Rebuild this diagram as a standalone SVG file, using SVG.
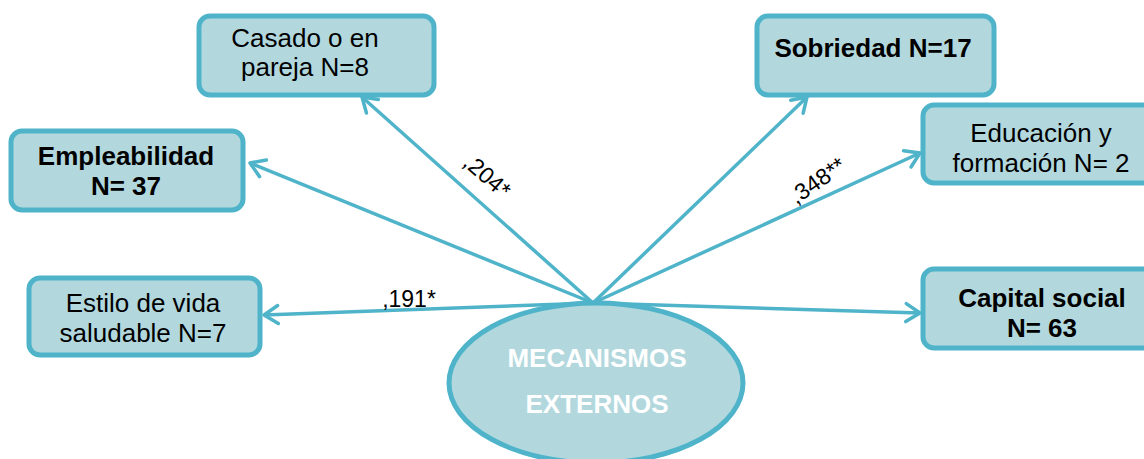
<svg xmlns="http://www.w3.org/2000/svg" width="1144" height="459" viewBox="0 0 1144 459">
<style>
  .box { fill: #b2d8de; stroke: #4fb4c9; stroke-width: 5; }
  .t { font-family: "Liberation Sans", Arial, sans-serif; font-size: 26px; fill: #000; text-anchor: middle; }
  .b { font-weight: bold; }
  .w { fill: #ffffff; font-weight: bold; }
  .lbl { font-family: "Liberation Sans", Arial, sans-serif; font-size: 23px; fill: #000; text-anchor: middle; }
  .edge { stroke: #4fb4c9; stroke-width: 3.5; fill: none; marker-end: url(#arr); }
</style>
<defs>
  <marker id="arr" markerUnits="userSpaceOnUse" markerWidth="30" markerHeight="30" refX="0" refY="0" viewBox="-20 -15 25 30" orient="auto">
    <path d="M-14,-9 L0,0 L-14,9" fill="none" stroke="#4fb4c9" stroke-width="3.5" stroke-linecap="round" stroke-linejoin="round"/>
  </marker>
</defs>
<rect width="1144" height="459" fill="#ffffff"/>

<g id="connectors">
  <line class="edge" x1="593" y1="303" x2="362" y2="97"/>
  <line class="edge" x1="593" y1="303" x2="250" y2="163"/>
  <line class="edge" x1="593" y1="303" x2="264" y2="315"/>
  <line class="edge" x1="593" y1="303" x2="807" y2="97"/>
  <line class="edge" x1="593" y1="303" x2="920" y2="153"/>
  <line class="edge" x1="593" y1="303" x2="920" y2="313"/>
</g>

<g id="labels">
  <text class="lbl" x="409" y="307">,191*</text>
  <text class="lbl" transform="translate(482,182) rotate(41)" x="0" y="0">,204*</text>
  <text class="lbl" transform="translate(822,187) rotate(-35)" x="0" y="0">,348**</text>
</g>

<g id="casado">
  <rect class="box" x="199" y="16" width="235" height="79" rx="11"/>
  <text class="t" x="305" y="47">Casado o en</text>
  <text class="t" x="305" y="76">pareja N=8</text>
</g>

<g id="empleabilidad">
  <rect class="box" x="11" y="131" width="232" height="79" rx="11"/>
  <text class="t b" x="126" y="165">Empleabilidad</text>
  <text class="t b" x="126" y="195">N= 37</text>
</g>

<g id="estilo">
  <rect class="box" x="29" y="278" width="231" height="77" rx="11"/>
  <text class="t" x="143" y="312">Estilo de vida</text>
  <text class="t" x="143" y="342">saludable N=7</text>
</g>

<g id="sobriedad">
  <rect class="box" x="757" y="16" width="237" height="79" rx="11"/>
  <text class="t b" x="873" y="57">Sobriedad N=17</text>
</g>

<g id="educacion">
  <rect class="box" x="923" y="105" width="240" height="78" rx="11"/>
  <text class="t" x="1041" y="142">Educación y</text>
  <text class="t" x="1041" y="172">formación N= 2</text>
</g>

<g id="capital">
  <rect class="box" x="923" y="269" width="240" height="79" rx="11"/>
  <text class="t b" x="1042" y="307">Capital social</text>
  <text class="t b" x="1042" y="337">N= 63</text>
</g>

<g id="mecanismos">
  <ellipse class="box" cx="596" cy="383" rx="147" ry="80"/>
  <text class="t w" x="597" y="367">MECANISMOS</text>
  <text class="t w" x="597" y="413">EXTERNOS</text>
</g>
</svg>
